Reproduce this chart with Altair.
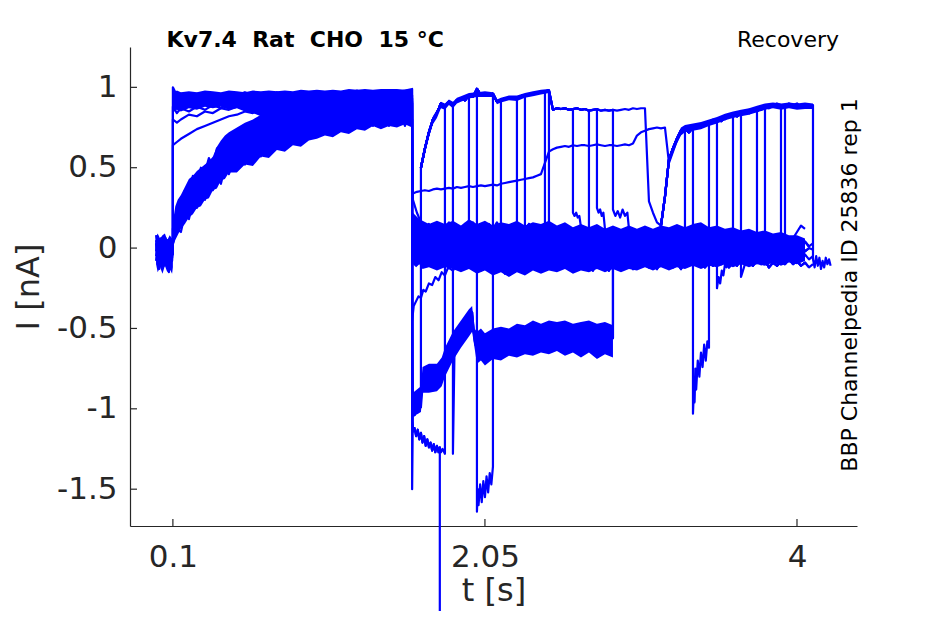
import altair as alt
import pandas as pd

# ---------------- axis / text content ----------------
X_TICKS = [0.1, 2.05, 4]
Y_TICKS = [-1.5, -1, -0.5, 0, 0.5, 1]
X_DOMAIN = [-0.168, 4.375]
Y_DOMAIN = [-1.729, 1.251]
TITLE_LEFT = "Kv7.4\u00a0\u00a0Rat\u00a0\u00a0CHO\u00a0\u00a015 °C"
TITLE_RIGHT = "Recovery"
SIDE_TEXT = "BBP Channelpedia ID 25836 rep 1"

# ---------------- baseline + prepulse (t < 1.6 s) ----------------
BT = [-0.005, 0.005, 0.015, 0.025, 0.035, 0.045, 0.055, 0.065, 0.075, 0.085, 0.095, 0.100]
BASE1 = [0.05, -0.06, 0.02, -0.10, 0.01, -0.08, 0.04, -0.12, 0.00, -0.05, 0.03, -0.02]
BASE2 = [-0.02, 0.07, -0.09, 0.03, -0.12, 0.02, -0.06, 0.05, -0.14, 0.01, -0.08, 0.00]
BASE3 = [0.08, -0.03, 0.04, -0.07, 0.06, -0.11, 0.02, -0.04, 0.05, -0.09, -0.01, 0.03]
BASE4 = [-0.05, 0.02, -0.13, 0.00, -0.07, 0.04, -0.10, 0.01, -0.15, -0.02, -0.06, 0.02]
BASE5 = [0.03, -0.10, 0.05, -0.04, 0.02, -0.09, 0.06, -0.06, -0.01, -0.11, 0.02, 0.05]
BASE6 = [-0.08, 0.04, -0.03, 0.06, -0.12, -0.02, 0.03, -0.08, 0.04, -0.13, 0.00, -0.04]

FT = [0.100, 0.125, 0.150, 0.200, 0.250, 0.300, 0.350, 0.400, 0.450, 0.500,
      0.550, 0.600, 0.650, 0.700, 0.750, 0.800, 0.850, 0.900, 0.950, 1.000,
      1.050, 1.100, 1.150, 1.200, 1.250, 1.300, 1.350, 1.400, 1.450, 1.500,
      1.550, 1.595]
PRE1 = [1.00, 0.95, 0.96, 0.94, 0.96, 0.95, 0.96, 0.94, 0.96, 0.95,
        0.97, 0.95, 0.96, 0.94, 0.97, 0.95, 0.96, 0.95, 0.97, 0.96,
        0.97, 0.95, 0.97, 0.96, 0.98, 0.96, 0.97, 0.96, 0.98, 0.97,
        0.98, 0.99]
PRE2 = [0.88, 0.84, 0.87, 0.85, 0.88, 0.86, 0.89, 0.87, 0.90, 0.88,
        0.91, 0.89, 0.92, 0.90, 0.92, 0.89, 0.93, 0.91, 0.93, 0.90,
        0.94, 0.92, 0.93, 0.91, 0.94, 0.92, 0.95, 0.93, 0.94, 0.92,
        0.95, 0.93]
PRE3 = [0.64, 0.66, 0.68, 0.71, 0.74, 0.76, 0.78, 0.80, 0.82, 0.83,
        0.85, 0.84, 0.86, 0.85, 0.87, 0.86, 0.88, 0.87, 0.89, 0.88,
        0.90, 0.88, 0.90, 0.89, 0.91, 0.89, 0.91, 0.90, 0.92, 0.90,
        0.92, 0.91]
PRE6 = [0.80, 0.78, 0.80, 0.83, 0.82, 0.85, 0.84, 0.87, 0.86, 0.88,
        0.87, 0.90, 0.88, 0.91, 0.89, 0.92, 0.90, 0.92, 0.91, 0.93,
        0.91, 0.93, 0.92, 0.94, 0.92, 0.94, 0.93, 0.95, 0.93, 0.95,
        0.94, 0.95]

ST = [0.100, 0.125, 0.150, 0.175, 0.200, 0.225, 0.250, 0.275, 0.300, 0.325,
      0.350, 0.375, 0.400, 0.425, 0.450, 0.475, 0.500, 0.525, 0.550, 0.575,
      0.600, 0.625, 0.650, 0.675, 0.700, 0.725, 0.750, 0.775, 0.800, 0.825,
      0.850, 0.875, 0.900, 0.925, 0.950, 0.975, 1.000, 1.025, 1.050, 1.075,
      1.100, 1.125, 1.150, 1.175, 1.200, 1.225, 1.250, 1.275, 1.300, 1.325,
      1.350, 1.375, 1.400, 1.425, 1.450, 1.475, 1.500, 1.525, 1.550, 1.575,
      1.595]
PRE4 = [0.12, 0.24, 0.27, 0.36, 0.33, 0.45, 0.41, 0.50, 0.47, 0.56,
        0.51, 0.62, 0.57, 0.68, 0.62, 0.70, 0.66, 0.74, 0.69, 0.77,
        0.72, 0.79, 0.74, 0.81, 0.76, 0.83, 0.78, 0.84, 0.79, 0.85,
        0.80, 0.86, 0.82, 0.87, 0.81, 0.88, 0.83, 0.88, 0.84, 0.89,
        0.83, 0.89, 0.85, 0.90, 0.84, 0.90, 0.86, 0.91, 0.85, 0.91,
        0.87, 0.92, 0.86, 0.92, 0.87, 0.92, 0.88, 0.93, 0.87, 0.92,
        0.90]
PRE5 = [0.03, 0.12, 0.10, 0.21, 0.18, 0.29, 0.25, 0.33, 0.30, 0.39,
        0.36, 0.44, 0.40, 0.50, 0.46, 0.53, 0.49, 0.56, 0.52, 0.58,
        0.55, 0.62, 0.57, 0.64, 0.60, 0.67, 0.62, 0.69, 0.64, 0.71,
        0.66, 0.72, 0.68, 0.74, 0.69, 0.75, 0.70, 0.77, 0.71, 0.78,
        0.72, 0.79, 0.73, 0.80, 0.74, 0.81, 0.75, 0.82, 0.75, 0.83,
        0.76, 0.83, 0.76, 0.84, 0.76, 0.83, 0.77, 0.84, 0.76, 0.83,
        0.80]

# ---------------- after the step at 1.595 s ----------------
G = [1.600, 1.625, 1.650, 1.675, 1.700, 1.725, 1.750, 1.775, 1.800, 1.825,
     1.850, 1.875, 1.900, 1.925, 1.950, 1.975, 2.000, 2.025, 2.050, 2.075,
     2.100, 2.125, 2.150, 2.175, 2.200, 2.225, 2.250, 2.275, 2.300, 2.325,
     2.350, 2.375, 2.400, 2.425, 2.450, 2.475, 2.500, 2.525, 2.550, 2.575,
     2.600, 2.625, 2.650, 2.675, 2.700, 2.725, 2.750, 2.775, 2.800, 2.825,
     2.850, 2.875, 2.900, 2.925, 2.950, 2.975, 3.000, 3.025, 3.050, 3.075,
     3.100, 3.125, 3.150, 3.175, 3.200, 3.225, 3.250, 3.275, 3.300, 3.325,
     3.350, 3.375, 3.400, 3.425, 3.450, 3.475, 3.500, 3.525, 3.550, 3.575,
     3.600, 3.625, 3.650, 3.675, 3.700, 3.725, 3.750, 3.775, 3.800, 3.825,
     3.850, 3.875, 3.900, 3.925, 3.950, 3.975, 4.000, 4.025, 4.050, 4.075,
     4.100]

U = [0.50, 0.62, 0.72, 0.80, 0.84, 0.90, 0.88, 0.91,
     0.89, 0.92, 0.93, 0.92, 0.95, 0.94, 0.99, 0.95, 0.96, 0.955,
     0.96, 0.91, 0.92, 0.93, 0.935, 0.94, 0.93, 0.945, 0.95, 0.955,
     0.96, 0.965, 0.97, 0.975, 0.98, 0.86, 0.87, 0.865, 0.87, 0.86,
     0.865, 0.87, 0.86, 0.865, 0.855, 0.86, 0.865, 0.855, 0.86, 0.855,
     0.86, 0.855, 0.86, 0.865, 0.86, 0.87, 0.865, 0.87, 0.87, 0.29,
     0.22, 0.16, 0.14, 0.32, 0.55, 0.62, 0.68, 0.73, 0.74, 0.72,
     0.75, 0.76, 0.75, 0.78, 0.77, 0.79, 0.80, 0.79, 0.81, 0.82,
     0.83, 0.82, 0.84, 0.85, 0.84, 0.86, 0.85, 0.87, 0.88, 0.87,
     0.89, 0.88, 0.87, 0.89, 0.88, 0.89, 0.87, 0.88, 0.89, 0.88,
     0.89]

MID = [0.34, 0.35, 0.355, 0.36, 0.355, 0.365, 0.37, 0.365, 0.37, 0.375,
       0.37, 0.38, 0.375, 0.38, 0.385, 0.38, 0.385, 0.39, 0.385, 0.39,
       0.395, 0.39, 0.40, 0.405, 0.41, 0.415, 0.42, 0.425, 0.43, 0.435,
       0.44, 0.45, 0.46, 0.53, 0.60, 0.615, 0.625, 0.63, 0.635, 0.63,
       0.64, 0.635, 0.64, 0.64, 0.635, 0.64, 0.645, 0.64, 0.635, 0.64,
       0.64, 0.635, 0.64, 0.645, 0.64, 0.65, 0.70, 0.72, 0.73, 0.74,
       0.745, 0.75, 0.745, 0.75, 0.53, 0.60, 0.67, 0.72, 0.75, 0.73,
       0.76, 0.75, 0.77, 0.76, 0.78, 0.80, 0.79, 0.81, 0.80, 0.82,
       0.84, 0.83, 0.85, 0.84, 0.86, 0.85, 0.87, 0.86, 0.88, 0.89,
       0.88, 0.90, 0.89, 0.88, 0.90, 0.89, 0.90, 0.88, 0.89, 0.88,
       0.89]

B1 = [0.30, 0.22, 0.16, 0.13, 0.15, 0.11, 0.14, 0.10, 0.13, 0.16,
      0.11, 0.14, 0.10, 0.15, 0.12, 0.16, 0.11, 0.14, 0.10, 0.15,
      0.12, 0.16, 0.11, 0.14, 0.10, 0.13, 0.09, 0.14, 0.11, 0.15,
      0.10, 0.13, 0.09, 0.13, 0.10, 0.14, 0.09, 0.12, 0.08, 0.12,
      0.10, 0.13, 0.08, 0.11, 0.07, 0.12, 0.09, 0.11, 0.07, 0.10,
      0.06, 0.11, 0.08, 0.10, 0.06, 0.11, 0.07, 0.10, 0.06, 0.09,
      0.05, 0.10, 0.07, 0.09, 0.06, 0.10, 0.07, 0.11, 0.08, 0.06,
      0.10, 0.08, 0.12, 0.09, 0.07, 0.11, 0.08, 0.06, 0.10, 0.07,
      0.09, 0.06, 0.09, 0.05, 0.08, 0.05, 0.07, 0.04, 0.07, 0.04,
      0.06, 0.03, 0.06, 0.03, 0.05, 0.02, 0.05, 0.02, 0.04, 0.01,
      0.03]
B2 = [0.05, 0.10, 0.02, 0.07, -0.01, 0.06, 0.01, 0.08, 0.02, 0.05,
      -0.02, 0.06, 0.03, 0.08, 0.00, 0.05, 0.02, 0.07, -0.01, 0.05,
      0.03, 0.08, 0.01, 0.06, 0.02, 0.07, 0.00, 0.05, 0.03, 0.08,
      0.02, 0.06, 0.01, 0.05, 0.03, 0.07, 0.00, 0.05, 0.02, 0.06,
      0.01, 0.04, 0.02, 0.06, 0.00, 0.04, 0.01, 0.05, -0.01, 0.04,
      0.02, 0.05, 0.00, 0.04, 0.01, 0.05, 0.02, 0.04, 0.00, 0.05,
      0.01, 0.04, 0.02, 0.05, 0.00, 0.04, 0.02, 0.05, 0.01, 0.04,
      0.00, 0.05, 0.02, 0.06, 0.01, 0.04, 0.00, 0.03, 0.01, 0.04,
      0.00, 0.03, -0.01, 0.03, 0.00, 0.02, -0.01, 0.02, 0.00, 0.03,
      -0.02, 0.01, -0.01, 0.02, -0.02, 0.01, -0.01, 0.02, -0.02, 0.00,
      -0.01]
B3 = [-0.02, -0.08, -0.01, -0.06, 0.01, -0.05, -0.02, -0.08, -0.03, -0.07,
      0.00, -0.05, -0.02, -0.07, -0.03, -0.09, -0.04, -0.08, -0.02, -0.06,
      -0.03, -0.09, -0.04, -0.07, -0.02, -0.06, -0.03, -0.08, -0.02, -0.06,
      -0.01, -0.05, -0.02, -0.07, -0.01, -0.05, -0.02, -0.06, -0.01, -0.05,
      -0.03, -0.07, -0.02, -0.05, -0.01, -0.06, -0.03, -0.07, -0.02, -0.05,
      -0.03, -0.07, -0.02, -0.06, -0.03, -0.07, -0.02, -0.06, -0.04, -0.08,
      -0.03, -0.06, -0.02, -0.07, -0.03, -0.06, -0.02, -0.05, -0.03, -0.07,
      -0.02, -0.06, -0.03, -0.08, -0.04, -0.07, -0.03, -0.06, -0.02, -0.05,
      -0.03, -0.06, -0.04, -0.08, -0.03, -0.06, -0.04, -0.07, -0.03, -0.06,
      -0.04, -0.08, -0.05, -0.09, -0.04, -0.07, -0.05, -0.08, -0.04, -0.07,
      -0.05]
B4 = [-0.10, -0.14, -0.08, -0.13,
      -0.07, -0.15, -0.10, -0.16, -0.09, -0.13, -0.08, -0.14, -0.10, -0.12,
      -0.07, -0.12, -0.09, -0.13, -0.08, -0.11, -0.07, -0.12, -0.09, -0.13,
      -0.08, -0.11, -0.07, -0.12, -0.09, -0.14, -0.08, -0.12, -0.10, -0.14,
      -0.08, -0.11, -0.07, -0.12, -0.09, -0.13, -0.08, -0.11, -0.07, -0.12,
      -0.09, -0.13, -0.08, -0.11, -0.07, -0.12, -0.09, -0.13, -0.08, -0.11,
      -0.07, -0.10, -0.08, -0.12, -0.09, -0.11, -0.07, -0.10, -0.08, -0.12,
      -0.09, -0.11, -0.07, -0.10, -0.08, -0.11, -0.07, -0.10, -0.08, -0.12,
      -0.09, -0.11, -0.08, -0.10, -0.07, -0.10, -0.08, -0.11, -0.09, -0.12,
      -0.10]

LA = [(1.595, -1.08), (1.602, -1.14), (1.610, -1.12), (1.620, -1.17), (1.630, -1.13),
      (1.640, -1.19), (1.650, -1.15), (1.660, -1.21), (1.670, -1.17), (1.680, -1.23),
      (1.690, -1.19), (1.700, -1.24), (1.710, -1.21), (1.720, -1.26), (1.730, -1.22),
      (1.740, -1.27), (1.750, -1.23), (1.760, -1.27), (1.768, -1.24), (1.775, -1.27),
      (1.785, -1.25), (1.800, -1.28)]
LB = [(1.595, -1.50), (1.600, -0.98), (1.610, -1.04), (1.620, -0.95), (1.630, -1.02),
      (1.640, -0.93), (1.650, -0.99), (1.660, -0.86), (1.670, -0.80), (1.680, -0.86),
      (1.690, -0.78), (1.700, -0.84), (1.710, -0.77), (1.720, -0.85), (1.730, -0.79),
      (1.740, -0.87), (1.750, -0.80), (1.760, -0.86), (1.770, -0.76), (1.780, -0.80),
      (1.790, -0.70), (1.800, -0.74), (1.810, -0.66), (1.820, -0.70), (1.830, -0.60),
      (1.840, -0.65), (1.850, -0.57), (1.860, -0.62), (1.870, -0.53), (1.880, -0.58),
      (1.890, -0.50), (1.900, -0.55), (1.910, -0.49), (1.920, -0.52), (1.930, -0.45),
      (1.940, -0.50), (1.950, -0.41), (1.960, -0.46), (1.970, -0.40), (1.980, -0.52),
      (1.990, -0.60), (2.000, -0.56), (2.010, -0.66), (2.020, -0.58), (2.030, -0.69),
      (2.040, -0.60), (2.050, -0.67), (2.060, -0.58), (2.075, -0.65), (2.090, -0.56),
      (2.100, -0.63), (2.115, -0.55), (2.130, -0.64), (2.145, -0.57), (2.160, -0.62),
      (2.175, -0.54), (2.190, -0.61), (2.205, -0.55), (2.220, -0.63), (2.235, -0.52),
      (2.250, -0.60), (2.265, -0.53), (2.280, -0.59), (2.295, -0.50), (2.310, -0.58),
      (2.325, -0.51), (2.340, -0.57), (2.355, -0.49), (2.370, -0.56), (2.385, -0.50),
      (2.400, -0.58), (2.415, -0.48), (2.430, -0.55), (2.445, -0.50), (2.460, -0.57),
      (2.475, -0.49), (2.490, -0.56), (2.505, -0.51), (2.520, -0.60), (2.535, -0.52),
      (2.550, -0.58), (2.565, -0.50), (2.580, -0.59), (2.595, -0.52), (2.610, -0.60),
      (2.625, -0.51), (2.640, -0.58), (2.655, -0.53), (2.670, -0.61), (2.685, -0.50),
      (2.700, -0.57), (2.715, -0.52), (2.730, -0.60), (2.745, -0.53), (2.760, -0.62),
      (2.775, -0.51), (2.790, -0.58), (2.805, -0.54), (2.820, -0.63), (2.835, -0.52),
      (2.850, -0.56)]
LR = [(1.595, -0.45), (1.605, -0.36), (1.620, -0.33), (1.635, -0.30), (1.650, -0.31),
      (1.665, -0.26), (1.680, -0.27), (1.700, -0.22), (1.720, -0.23), (1.740, -0.18),
      (1.760, -0.20), (1.780, -0.15), (1.800, -0.17), (1.820, -0.12), (1.850, -0.14),
      (1.875, -0.10), (1.900, -0.12), (1.925, -0.08), (1.950, -0.11), (1.975, -0.07)]
LC = [(2.000, -1.64), (2.005, -1.50), (2.010, -1.60), (2.020, -1.47), (2.030, -1.58),
      (2.040, -1.45), (2.050, -1.55), (2.060, -1.42), (2.070, -1.52), (2.080, -1.40),
      (2.090, -1.47), (2.100, -1.36)]
LD = [(3.350, -1.03), (3.355, -0.90), (3.360, -0.96), (3.365, -0.75), (3.370, -0.88),
      (3.380, -0.70), (3.390, -0.80), (3.400, -0.65), (3.410, -0.74), (3.420, -0.60),
      (3.430, -0.70), (3.440, -0.58), (3.450, -0.62)]
LE = [(3.500, -0.25), (3.510, -0.18), (3.520, -0.22), (3.530, -0.14), (3.540, -0.17),
      (3.550, -0.10), (3.560, -0.12), (3.575, -0.05), (3.590, -0.08), (3.600, -0.03)]
LF = [(3.900, -0.06), (3.925, -0.02), (3.950, 0.00), (3.975, 0.06), (4.000, 0.10),
      (4.025, 0.14), (4.050, 0.12)]
TAIL = [(4.100, -0.07), (4.110, -0.12), (4.120, -0.05), (4.130, -0.11), (4.140, -0.06),
        (4.150, -0.13), (4.160, -0.08), (4.170, -0.12), (4.180, -0.06), (4.190, -0.10),
        (4.200, -0.07), (4.210, -0.11)]
H26 = [(2.600, 0.22), (2.610, 0.20), (2.620, 0.22), (2.630, 0.19), (2.640, 0.20), (2.650, 0.13)]
H275 = [(2.750, 0.25), (2.760, 0.22), (2.770, 0.24), (2.780, 0.20), (2.790, 0.22), (2.800, 0.12)]
H285 = [(2.850, 0.24), (2.865, 0.20), (2.880, 0.23), (2.895, 0.19), (2.910, 0.24),
        (2.925, 0.20), (2.940, 0.22), (2.950, 0.12)]
SPK1 = [(1.850, -1.28)]
SPK2 = [(3.650, -0.18)]
DROP = [(1.768, -4.0)]

# ---------------- noise envelopes (t, lower, upper) ----------------
ENV_BASE = [(-0.005, -0.10, 0.07), (0.005, -0.15, 0.09), (0.020, -0.12, 0.06), (0.035, -0.16, 0.08),
            (0.050, -0.11, 0.09), (0.065, -0.15, 0.05), (0.080, -0.13, 0.08), (0.095, -0.16, 0.06),
            (0.100, -0.12, 0.07)]
ENV_TOP = [(0.100, 0.86, 1.00), (0.110, 0.85, 0.97), (0.125, 0.86, 0.98), (0.150, 0.85, 0.97),
           (0.200, 0.87, 0.975), (0.250, 0.86, 0.97), (0.300, 0.88, 0.98), (0.350, 0.87, 0.975),
           (0.400, 0.88, 0.97), (0.450, 0.86, 0.98), (0.500, 0.87, 0.975), (0.550, 0.85, 0.97),
           (0.600, 0.84, 0.98), (0.650, 0.82, 0.975), (0.700, 0.80, 0.98), (0.750, 0.79, 0.975),
           (0.800, 0.80, 0.98), (0.850, 0.78, 0.975), (0.900, 0.79, 0.985), (0.950, 0.80, 0.98),
           (1.000, 0.81, 0.985), (1.050, 0.80, 0.98), (1.100, 0.82, 0.985), (1.150, 0.81, 0.98),
           (1.200, 0.83, 0.99), (1.250, 0.82, 0.985), (1.300, 0.84, 0.99), (1.350, 0.82, 0.985),
           (1.400, 0.84, 0.99), (1.450, 0.83, 0.99), (1.500, 0.85, 0.99), (1.550, 0.82, 0.985),
           (1.595, 0.80, 0.99)]
ENV_SLOW = [(0.100, 0.00, 0.16), (0.115, 0.05, 0.26), (0.130, 0.08, 0.30), (0.150, 0.12, 0.33),
            (0.175, 0.15, 0.38), (0.200, 0.19, 0.43), (0.225, 0.21, 0.45), (0.250, 0.25, 0.48),
            (0.275, 0.26, 0.50), (0.300, 0.30, 0.52), (0.325, 0.31, 0.54), (0.350, 0.36, 0.57),
            (0.375, 0.37, 0.63), (0.400, 0.42, 0.67), (0.425, 0.43, 0.70), (0.450, 0.47, 0.72),
            (0.500, 0.47, 0.75), (0.550, 0.52, 0.78), (0.600, 0.51, 0.80), (0.650, 0.57, 0.83),
            (0.700, 0.56, 0.85), (0.750, 0.61, 0.86), (0.800, 0.60, 0.87), (0.850, 0.64, 0.88),
            (0.900, 0.63, 0.88), (0.950, 0.67, 0.89), (1.000, 0.68, 0.89), (1.050, 0.70, 0.90),
            (1.100, 0.69, 0.90), (1.150, 0.72, 0.90), (1.200, 0.71, 0.90), (1.250, 0.74, 0.91),
            (1.300, 0.73, 0.91), (1.350, 0.76, 0.91), (1.400, 0.74, 0.91), (1.450, 0.76, 0.92),
            (1.500, 0.75, 0.92), (1.550, 0.77, 0.92), (1.595, 0.75, 0.92)]
ENV_BLOB = [(1.600, -0.10, 0.22), (1.620, -0.12, 0.20), (1.640, -0.10, 0.18), (1.660, -0.13, 0.17),
            (1.700, -0.12, 0.15), (1.750, -0.14, 0.17), (1.800, -0.12, 0.15), (1.850, -0.13, 0.17),
            (1.900, -0.15, 0.14), (1.950, -0.13, 0.18), (2.000, -0.16, 0.15), (2.050, -0.14, 0.17),
            (2.100, -0.17, 0.14), (2.150, -0.15, 0.16), (2.200, -0.18, 0.15), (2.250, -0.15, 0.17),
            (2.300, -0.17, 0.14), (2.350, -0.14, 0.16), (2.400, -0.16, 0.15), (2.450, -0.14, 0.17),
            (2.500, -0.15, 0.14), (2.550, -0.13, 0.16), (2.600, -0.16, 0.13), (2.650, -0.14, 0.15),
            (2.700, -0.15, 0.13), (2.750, -0.13, 0.15), (2.800, -0.15, 0.12), (2.850, -0.13, 0.14),
            (2.900, -0.15, 0.12), (2.950, -0.13, 0.14), (3.000, -0.14, 0.12), (3.050, -0.12, 0.14),
            (3.100, -0.14, 0.12), (3.150, -0.12, 0.14), (3.200, -0.14, 0.13), (3.250, -0.12, 0.15),
            (3.300, -0.13, 0.13), (3.350, -0.11, 0.15), (3.400, -0.13, 0.16), (3.450, -0.11, 0.13),
            (3.500, -0.12, 0.14), (3.550, -0.10, 0.12), (3.600, -0.12, 0.13), (3.650, -0.10, 0.11),
            (3.700, -0.12, 0.12), (3.750, -0.10, 0.10), (3.800, -0.11, 0.11), (3.850, -0.09, 0.09),
            (3.900, -0.11, 0.10), (3.950, -0.09, 0.08), (4.000, -0.10, 0.08), (4.050, -0.08, 0.06)]
ENV_LB = [(1.600, -1.05, -0.90), (1.650, -1.02, -0.86), (1.660, -0.90, -0.74), (1.700, -0.90, -0.72),
          (1.750, -0.89, -0.72), (1.780, -0.86, -0.68), (1.800, -0.80, -0.62), (1.850, -0.70, -0.52),
          (1.900, -0.62, -0.45), (1.950, -0.55, -0.38), (1.970, -0.52, -0.36), (1.985, -0.62, -0.50),
          (2.000, -0.72, -0.52), (2.025, -0.70, -0.50), (2.050, -0.73, -0.53), (2.100, -0.69, -0.50),
          (2.150, -0.70, -0.49), (2.200, -0.67, -0.50), (2.250, -0.68, -0.47), (2.300, -0.66, -0.48),
          (2.350, -0.67, -0.45), (2.400, -0.65, -0.47), (2.450, -0.66, -0.45), (2.500, -0.64, -0.46),
          (2.550, -0.67, -0.45), (2.600, -0.65, -0.47), (2.650, -0.68, -0.46), (2.700, -0.65, -0.45),
          (2.750, -0.69, -0.47), (2.800, -0.66, -0.46), (2.850, -0.68, -0.48)]
ENV_A = [(1.650, 0.47, 0.52), (1.675, 0.59, 0.64), (1.700, 0.69, 0.74), (1.725, 0.77, 0.82),
         (1.750, 0.81, 0.86), (1.775, 0.87, 0.91), (1.800, 0.86, 0.90), (1.825, 0.89, 0.925),
         (1.850, 0.87, 0.91), (1.875, 0.90, 0.935), (1.900, 0.91, 0.945), (1.950, 0.93, 0.965),
         (2.000, 0.94, 0.97), (2.050, 0.94, 0.975), (2.100, 0.94, 0.97), (2.125, 0.895, 0.925),
         (2.150, 0.905, 0.935), (2.200, 0.92, 0.95), (2.250, 0.915, 0.95), (2.300, 0.935, 0.965),
         (2.350, 0.945, 0.975), (2.400, 0.955, 0.985), (2.450, 0.965, 0.99)]
ENV_C = [(3.200, 0.52, 0.57), (3.225, 0.59, 0.64), (3.250, 0.65, 0.70), (3.275, 0.70, 0.75),
         (3.300, 0.72, 0.765), (3.350, 0.73, 0.775), (3.400, 0.74, 0.785), (3.450, 0.76, 0.80),
         (3.500, 0.775, 0.815), (3.550, 0.795, 0.835), (3.600, 0.81, 0.85), (3.650, 0.82, 0.86),
         (3.700, 0.83, 0.87), (3.750, 0.845, 0.885), (3.800, 0.86, 0.90), (3.850, 0.87, 0.905),
         (3.900, 0.86, 0.90), (3.950, 0.87, 0.905), (4.000, 0.86, 0.90), (4.050, 0.865, 0.905),
         (4.100, 0.865, 0.90)]


def pairs(p):
    return [a for a, _ in p], [b for _, b in p]


ARR = {
    "BASE1": (BT, BASE1), "BASE2": (BT, BASE2), "BASE3": (BT, BASE3),
    "BASE4": (BT, BASE4), "BASE5": (BT, BASE5), "BASE6": (BT, BASE6),
    "PRE1": (FT, PRE1), "PRE2": (FT, PRE2), "PRE3": (FT, PRE3), "PRE6": (FT, PRE6),
    "PRE4": (ST, PRE4), "PRE5": (ST, PRE5),
    "U": (G[2:], U), "MID": (G, MID), "B1": (G, B1), "B2": (G, B2), "B3": (G, B3),
    "B4": (G[16:], B4),
    "LA": pairs(LA), "LB": pairs(LB), "LR": pairs(LR), "LC": pairs(LC), "LD": pairs(LD),
    "LE": pairs(LE), "LF": pairs(LF), "TAIL": pairs(TAIL), "H26": pairs(H26),
    "H275": pairs(H275), "H285": pairs(H285), "SPK1": pairs(SPK1), "SPK2": pairs(SPK2),
    "DROP": pairs(DROP),
}
for k, (a, b) in ARR.items():
    assert len(a) == len(b), (k, len(a), len(b))

SWEEPS = {
    "P1": [("BASE1",), ("PRE1",), ("B1", 1.6, 4.075)],
    "P2": [("BASE2",), ("PRE2",), ("MID", 1.6, 4.1), ("TAIL",)],
    "P3": [("BASE3",), ("PRE3",), ("LA", 1.595, 1.768), ("DROP",)],
    "P4": [("BASE4",), ("PRE4",), ("LB",), ("B3", 2.85, 4.0)],
    "P5": [("BASE5",), ("PRE5",), ("LR",), ("B4", 2.0, 3.95)],
    "P6": [("BASE6",), ("PRE6",), ("LB", 1.6, 1.65), ("U", 1.65, 2.45), ("B2", 2.45, 4.05)],
    "F1": [("U", 1.65, 1.85), ("SPK1",), ("LB", 1.86, 2.85), ("B2", 2.85, 4.0)],
    "F2": [("LA", 1.595, 1.8), ("U", 1.8, 1.95), ("B3", 1.95, 4.05)],
    "F3": [("U", 1.65, 2.0), ("LC",), ("U", 2.1, 2.6), ("H26",), ("B1", 2.675, 4.0)],
    "F4": [("U", 1.65, 2.15), ("B2", 2.15, 4.075)],
    "F5": [("U", 1.65, 2.25), ("B4", 2.25, 4.1)],
    "F6": [("U", 1.65, 2.3), ("B1", 2.3, 4.05)],
    "F7": [("U", 1.65, 2.425), ("B3", 2.425, 4.0)],
    "F8": [("U", 1.65, 2.7), ("B4", 2.7, 4.075)],
    "F9": [("U", 1.65, 2.75), ("H275",), ("B2", 2.825, 4.05)],
    "F10": [("U", 1.65, 2.85), ("H285",), ("B1", 2.975, 4.1)],
    "R1": [("U", 1.65, 3.3), ("B2", 3.3, 4.05)],
    "R2": [("U", 3.15, 3.35), ("LD",), ("U", 3.45, 3.925), ("B1", 3.925, 4.075)],
    "R3": [("U", 3.15, 3.5), ("LE",), ("B3", 3.625, 4.0)],
    "R4": [("U", 3.15, 3.6), ("B2", 3.6, 4.1)],
    "R5": [("U", 3.15, 3.65), ("SPK2",), ("B4", 3.675, 4.05)],
    "R6": [("U", 3.15, 3.75), ("B3", 3.75, 4.1)],
    "R7": [("U", 3.15, 3.8), ("B1", 3.8, 4.0)],
    "R8": [("U", 3.15, 3.9), ("LF",)],
}

rows = []
for name, spec in SWEEPS.items():
    k = 0
    for piece in spec:
        T, V = ARR[piece[0]]
        t0 = piece[1] if len(piece) > 1 else -1e9
        t1 = piece[2] if len(piece) > 2 else 1e9
        for t, v in zip(T, V):
            if t0 - 1e-9 <= t <= t1 + 1e-9:
                rows.append({"sweep": name, "idx": k, "t": t, "I": v})
                k += 1
df = pd.DataFrame(rows)

env_rows = []
for name, env in [("base", ENV_BASE), ("top", ENV_TOP), ("slow", ENV_SLOW), ("blob", ENV_BLOB),
                  ("lb", ENV_LB), ("a", ENV_A), ("c", ENV_C)]:
    for t, lo, hi in env:
        env_rows.append({"band": name, "t": t, "I": lo, "I2": hi})
env_df = pd.DataFrame(env_rows)

W, H = 727, 479
AX = "#262626"
FONT = "DejaVu Sans"
BLUE = "#0000ff"
xscale = alt.Scale(domain=X_DOMAIN, nice=False, zero=False)
yscale = alt.Scale(domain=Y_DOMAIN, nice=False, zero=False)
XAX = alt.Axis(values=X_TICKS, labelExpr="'' + datum.value", ticks=False,
               grid=False, domainColor=AX, domainWidth=1.2,
               labelFont=FONT, labelFontSize=31, labelColor=AX, labelPadding=16,
               titleFont=FONT, titleFontSize=32, titleFontWeight="normal",
               titleColor=AX, titlePadding=3)
YAX = alt.Axis(values=Y_TICKS, labelExpr="'' + datum.value", ticks=False,
               grid=False, domainColor=AX, domainWidth=1.2,
               labelFont=FONT, labelFontSize=31, labelColor=AX, labelPadding=13,
               titleFont=FONT, titleFontSize=32, titleFontWeight="normal",
               titleColor=AX, titlePadding=11)
XENC = alt.X("t:Q", scale=xscale, title="t [s]", axis=XAX)
YENC = alt.Y("I:Q", scale=yscale, title="I [nA]", axis=YAX)

bands = alt.Chart(env_df).mark_area(color=BLUE, opacity=1, clip=False).encode(
    x=XENC, y=YENC, y2="I2:Q", detail="band:N")

traces = alt.Chart(df).mark_line(
    color=BLUE, strokeWidth=2.2, strokeJoin="round", clip=False
).encode(x=XENC, y=YENC, detail="sweep:N", order="idx:Q")

xt = alt.Chart(pd.DataFrame({"t": X_TICKS})).mark_rule(color=AX, strokeWidth=1.2).encode(
    x=XENC, y=alt.value(H), y2=alt.value(H - 7))
yt = alt.Chart(pd.DataFrame({"I": Y_TICKS})).mark_rule(color=AX, strokeWidth=1.2).encode(
    y=YENC, x=alt.value(0), x2=alt.value(7))

t_left = alt.Chart(pd.DataFrame({"s": [TITLE_LEFT]})).mark_text(
    font=FONT, fontSize=22, fontWeight="bold", color="black", align="left", baseline="alphabetic"
).encode(text="s:N", x=alt.value(36.5), y=alt.value(0))
t_right = alt.Chart(pd.DataFrame({"s": [TITLE_RIGHT]})).mark_text(
    font=FONT, fontSize=22, color="black", align="right", baseline="alphabetic"
).encode(text="s:N", x=alt.value(709), y=alt.value(0))
t_side = alt.Chart(pd.DataFrame({"s": [SIDE_TEXT]})).mark_text(
    font=FONT, fontSize=22, color="black", align="center", baseline="alphabetic", angle=270
).encode(text="s:N", x=alt.value(727), y=alt.value(238))

chart = alt.layer(bands, traces, xt, yt, t_left, t_right, t_side).properties(
    width=W, height=H,
    autosize=alt.AutoSizeParams(type="none"),
    padding={"left": 122, "top": 39, "right": 70, "bottom": 85},
).configure_view(stroke=None)

chart.save("out.html", embed_options={"renderer": "svg", "actions": False})
